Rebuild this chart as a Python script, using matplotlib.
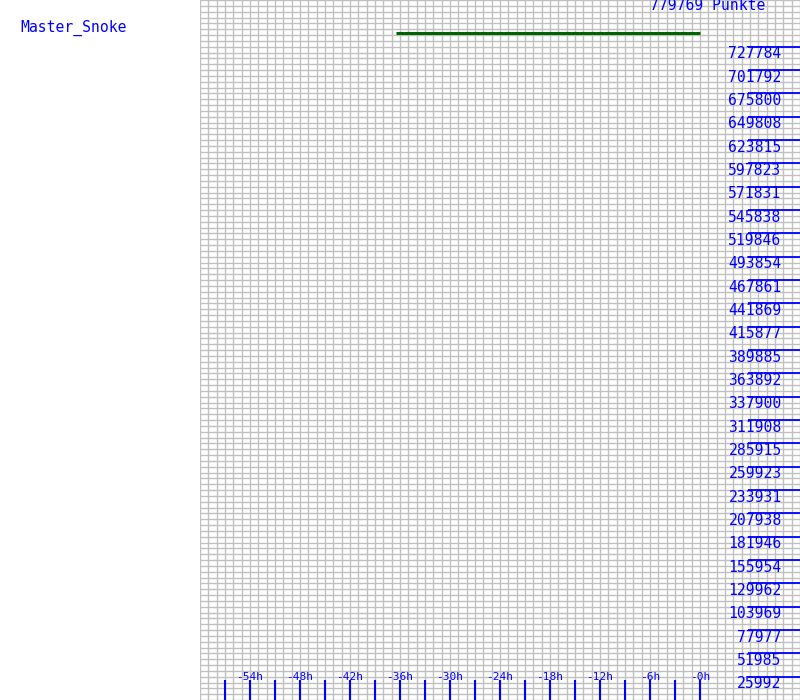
import matplotlib
matplotlib.use("Agg")
import matplotlib.pyplot as plt
import numpy as np

# data
player = "Master_Snoke"
points_label = "779769 Punkte"
y_max = 779769
y_step = 25992.3  # one label step = y_max / 30
history_hours = [-36.5, 0]
history_points = [743000, 743000]
hour_ticks = [-54, -48, -42, -36, -30, -24, -18, -12, -6, 0]
minor_ticks = [-57, -51, -45, -39, -33, -27, -21, -15, -9, -3]
y_labels = [25992, 51985, 77977, 103969, 129962, 155954, 181946, 207938,
            233931, 259923, 285915, 311908, 337900, 363892, 389885, 415877,
            441869, 467861, 493854, 519846, 545838, 571831, 597823, 623815,
            649808, 675800, 701792, 727784]

blue = "#0000ff"
mono = "DejaVu Sans Mono"

fig = plt.figure(figsize=(8, 7), dpi=100)
ax = fig.add_axes([0.25, 0, 0.75, 1])
ax.set_xlim(-60, 12)
ax.set_ylim(0, y_max)
ax.axis("off")

# fine grid: 1 hour columns, 120 rows
for h in np.arange(-60, 13, 1):
    ax.axvline(h, color="#c0c0c0", lw=1, zorder=1)
for v in np.linspace(0, y_max, 121):
    ax.axhline(v, color="#c0c0c0", lw=1, zorder=1)

# score history
ax.plot(history_hours, history_points, color="#006400", lw=2.2,
        solid_capstyle="butt", zorder=3)

# bottom hour ticks
xt = ax.get_xaxis_transform()
ax.vlines(hour_ticks + minor_ticks, 0, 20 / 700, colors=blue, lw=1.5,
          transform=xt, zorder=3)
for h in hour_ticks:
    ax.text(h, 23 / 700, f"-{abs(h)}h", transform=xt, ha="center", va="center",
            color=blue, fontsize=8, family=mono, zorder=4)

# right value scale
for i, v in enumerate(y_labels):
    yv = (i + 1) * y_step
    ax.hlines(yv, 5.8, 12, colors=blue, lw=1.3, zorder=3)
    ax.annotate(str(v), (9.8, yv), xytext=(0, -7), textcoords="offset pixels",
                ha="right", va="center", color=blue, fontsize=10.6,
                family=mono, zorder=4)

ax.text(7.8, 1 - 6 / 700, points_label, transform=xt, ha="right",
        va="center", color=blue, fontsize=10.6, family=mono)
fig.text(20 / 800, 1 - 28 / 700, player, ha="left", va="center",
         color=blue, fontsize=10.6, family=mono)

fig.savefig("out.png", dpi=100)
